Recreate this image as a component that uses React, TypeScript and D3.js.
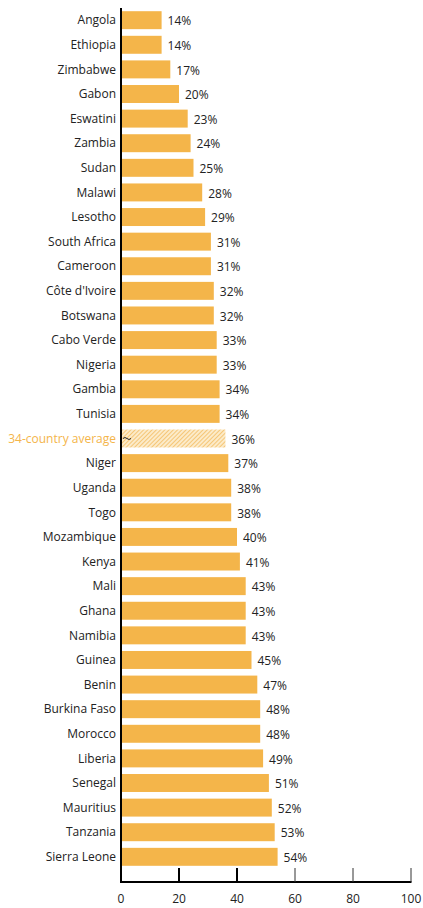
import { useEffect, useRef } from 'react';
import * as d3 from 'd3';

const countries = [
  'Angola', 'Ethiopia', 'Zimbabwe', 'Gabon', 'Eswatini', 'Zambia', 'Sudan', 'Malawi',
  'Lesotho', 'South Africa', 'Cameroon', "Côte d'Ivoire", 'Botswana', 'Cabo Verde',
  'Nigeria', 'Gambia', 'Tunisia', '34-country average', 'Niger', 'Uganda', 'Togo',
  'Mozambique', 'Kenya', 'Mali', 'Ghana', 'Namibia', 'Guinea', 'Benin', 'Burkina Faso',
  'Morocco', 'Liberia', 'Senegal', 'Mauritius', 'Tanzania', 'Sierra Leone',
];
const values = [
  14, 14, 17, 20, 23, 24, 25, 28, 29, 31, 31, 32, 32, 33, 33, 34, 34, 36, 37, 38, 38,
  40, 41, 43, 43, 43, 45, 47, 48, 48, 49, 51, 52, 53, 54,
];
const averageLabel = '34-country average';
const xTicks = [0, 20, 40, 60, 80, 100];

const W = 423;
const H = 908;
const BAR = '#F4B54A';

export default function App() {
  const ref = useRef<SVGSVGElement>(null);

  useEffect(() => {
    if (!ref.current) return;
    const svg = d3.select(ref.current);
    svg.selectAll('*').remove();

    const margin = { top: 8, right: 12, bottom: 26, left: 121 };
    const x = d3.scaleLinear().domain([0, 100]).range([margin.left, 411]);
    const y = d3.scaleBand().domain(countries).range([margin.top, 869]).paddingInner(0.27).paddingOuter(0.13);

    const defs = svg.append('defs');
    const pat = defs.append('pattern')
      .attr('id', 'hatch')
      .attr('patternUnits', 'userSpaceOnUse')
      .attr('width', 3).attr('height', 3)
      .attr('patternTransform', 'rotate(45)');
    pat.append('rect').attr('width', 3).attr('height', 3).attr('fill', '#FCEBC9');
    pat.append('line').attr('x1', 0).attr('y1', 0).attr('x2', 0).attr('y2', 3)
      .attr('stroke', '#F2B24A').attr('stroke-width', 1.3);

    const rows = countries.map((c, i) => ({ c, v: values[i] }));
    const font = "'Open Sans', sans-serif";

    // bars
    svg.append('g').selectAll('rect')
      .data(rows)
      .join('rect')
      .attr('x', x(0))
      .attr('y', d => y(d.c)!)
      .attr('width', d => x(d.v) - x(0))
      .attr('height', y.bandwidth())
      .attr('fill', d => d.c === averageLabel ? 'url(#hatch)' : BAR);

    // country labels
    svg.append('g').selectAll('text')
      .data(rows)
      .join('text')
      .attr('x', x(0) - 5)
      .attr('y', d => y(d.c)! + y.bandwidth() / 2)
      .attr('dy', '0.35em')
      .attr('text-anchor', 'end')
      .style('font-family', font)
      .style('font-size', '12px')
      .style('fill', d => d.c === averageLabel ? BAR : '#222')
      .text(d => d.c);

    // value labels
    svg.append('g').selectAll('text')
      .data(rows)
      .join('text')
      .attr('x', d => x(d.v) + 6)
      .attr('y', d => y(d.c)! + y.bandwidth() / 2 + 1)
      .attr('dy', '0.35em')
      .style('font-family', font)
      .style('font-size', '12px')
      .style('fill', '#222')
      .text(d => `${d.v}%`);

    // small mark on the average bar
    const avgY = y(averageLabel)! + y.bandwidth() / 2;
    svg.append('path')
      .attr('d', `M${x(0) + 2},${avgY} q2,-2 4,0 q2,2 4,0`)
      .attr('fill', 'none')
      .attr('stroke', '#222')
      .attr('stroke-width', 1);

    // y axis line
    const axisY = 882;
    svg.append('line')
      .attr('x1', x(0)).attr('x2', x(0))
      .attr('y1', margin.top).attr('y2', axisY)
      .attr('stroke', '#000').attr('stroke-width', 2);

    // x axis
    svg.append('line')
      .attr('x1', x(0) - 1).attr('x2', x(100) + 0.5)
      .attr('y1', axisY).attr('y2', axisY)
      .attr('stroke', '#000').attr('stroke-width', 2);

    svg.append('g').selectAll('line')
      .data(xTicks)
      .join('line')
      .attr('x1', d => x(d)).attr('x2', d => x(d))
      .attr('y1', axisY - 14).attr('y2', axisY)
      .attr('stroke', d => d <= 40 ? '#000' : '#333')
      .attr('stroke-width', d => d <= 40 ? 2 : 1);

    svg.append('g').selectAll('text')
      .data(xTicks)
      .join('text')
      .attr('x', d => x(d))
      .attr('y', 899)
      .attr('dy', '0.35em')
      .attr('text-anchor', 'middle')
      .style('font-family', font)
      .style('font-size', '12px')
      .style('fill', '#222')
      .text(d => d);
  }, []);

  return (
    <svg
      ref={ref}
      width={W}
      height={H}
      style={{ position: 'absolute', left: 0, top: 0, background: '#fff' }}
    />
  );
}
